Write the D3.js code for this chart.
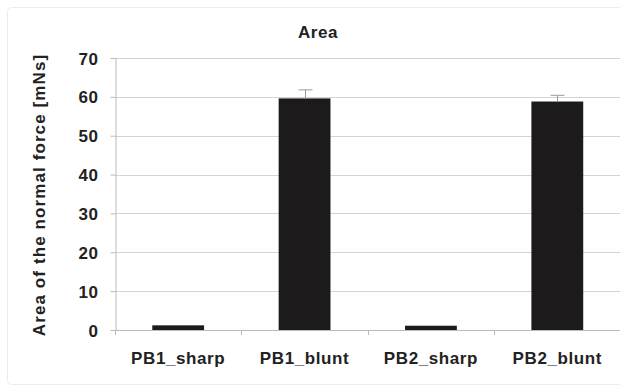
<!DOCTYPE html>
<html>
<head>
<meta charset="utf-8">
<script src="https://cdn.jsdelivr.net/npm/d3@7"></script>
<style>
  body { margin: 0; background: #fff; }
  text { font-family: "Liberation Sans", Arial, sans-serif; font-weight: bold; fill: #222; }
</style>
</head>
<body>
<div id="viz"></div>
<script>
const categories = ['PB1_sharp', 'PB1_blunt', 'PB2_sharp', 'PB2_blunt'];
const values = [1.2, 59.6, 1.1, 58.8];
const errors = [0, 2.2, 0, 1.6];
const yTicks = [0, 10, 20, 30, 40, 50, 60, 70];

const width = 620;
const height = 387;
const margin = { top: 58, right: 0, bottom: 57, left: 115 };

const svg = d3.select('#viz')
    .append('svg')
    .attr('width', width)
    .attr('height', height);

// faint outer frame
svg.append('rect')
    .attr('x', 7.5).attr('y', 7.5)
    .attr('width', 640).attr('height', 377)
    .attr('rx', 4)
    .attr('fill', 'none')
    .attr('stroke', '#ececec');

const xScale = d3.scaleBand()
    .domain(categories)
    .range([margin.left, 620.5])
    .paddingInner(0.59)
    .paddingOuter(0.295);

const yScale = d3.scaleLinear()
    .domain([0, 70])
    .range([height - margin.bottom, margin.top]);

// gridlines
svg.append('g')
    .selectAll('line')
    .data(yTicks)
    .join('line')
    .attr('x1', margin.left)
    .attr('x2', width)
    .attr('y1', d => Math.round(yScale(d)) + 0.5)
    .attr('y2', d => Math.round(yScale(d)) + 0.5)
    .attr('stroke', '#d4d4d4');

// y axis
const yAxis = d3.axisLeft(yScale).tickValues(yTicks).tickSize(5).tickPadding(12);
const gy = svg.append('g')
    .attr('transform', `translate(${margin.left + 0.5},0)`)
    .call(yAxis);
gy.select('.domain').attr('stroke', '#bbb');
gy.selectAll('.tick line').attr('stroke', '#bbb');
gy.selectAll('text')
    .attr('font-size', 17)
    .attr('dy', '0.36em')
    .style('font-family', '"Liberation Sans", Arial, sans-serif')
    .style('letter-spacing', '0.5px');

// x axis
const step = xScale.step();
const xTickPos = d3.range(categories.length + 1).map(i => margin.left + i * step);
const gx = svg.append('g');
gx.selectAll('line')
    .data(xTickPos)
    .join('line')
    .attr('x1', d => Math.round(d) + 0.5)
    .attr('x2', d => Math.round(d) + 0.5)
    .attr('y1', yScale(0))
    .attr('y2', yScale(0) + 5)
    .attr('stroke', '#bbb');
gx.append('line')
    .attr('x1', margin.left).attr('x2', width)
    .attr('y1', Math.round(yScale(0)) + 0.5).attr('y2', Math.round(yScale(0)) + 0.5)
    .attr('stroke', '#bbb');
gx.selectAll('text')
    .data(categories)
    .join('text')
    .attr('x', d => xScale(d) + xScale.bandwidth() / 2)
    .attr('y', 364)
    .attr('text-anchor', 'middle')
    .attr('font-size', 17)
    .style('letter-spacing', '0.6px')
    .text(d => d);

// bars
svg.selectAll('rect.bar')
    .data(categories)
    .join('rect')
    .attr('class', 'bar')
    .attr('x', d => xScale(d))
    .attr('y', (d, i) => yScale(values[i]))
    .attr('width', xScale.bandwidth())
    .attr('height', (d, i) => yScale(0) - yScale(values[i]))
    .attr('fill', '#1c1a1b');

// error bars
const eb = svg.append('g').attr('stroke', '#999').attr('stroke-width', 1);
categories.forEach((c, i) => {
    if (!errors[i]) return;
    const cx = Math.round(xScale(c) + xScale.bandwidth() / 2) + 0.5;
    eb.append('line')
        .attr('x1', cx).attr('x2', cx)
        .attr('y1', yScale(values[i])).attr('y2', yScale(values[i] + errors[i]));
    eb.append('line')
        .attr('x1', cx - 7).attr('x2', cx + 7)
        .attr('y1', yScale(values[i] + errors[i])).attr('y2', yScale(values[i] + errors[i]));
});

// title
svg.append('text')
    .attr('x', 318)
    .attr('y', 38)
    .attr('text-anchor', 'middle')
    .attr('font-size', 17)
    .style('letter-spacing', '0.5px')
    .text('Area');

// y axis title
svg.append('text')
    .attr('transform', `translate(45, ${(yScale(0) + yScale(70)) / 2 + 1}) rotate(-90)`)
    .attr('text-anchor', 'middle')
    .attr('font-size', 17)
    .style('letter-spacing', '1.1px')
    .text('Area of the normal force [mNs]');
</script>
</body>
</html>
